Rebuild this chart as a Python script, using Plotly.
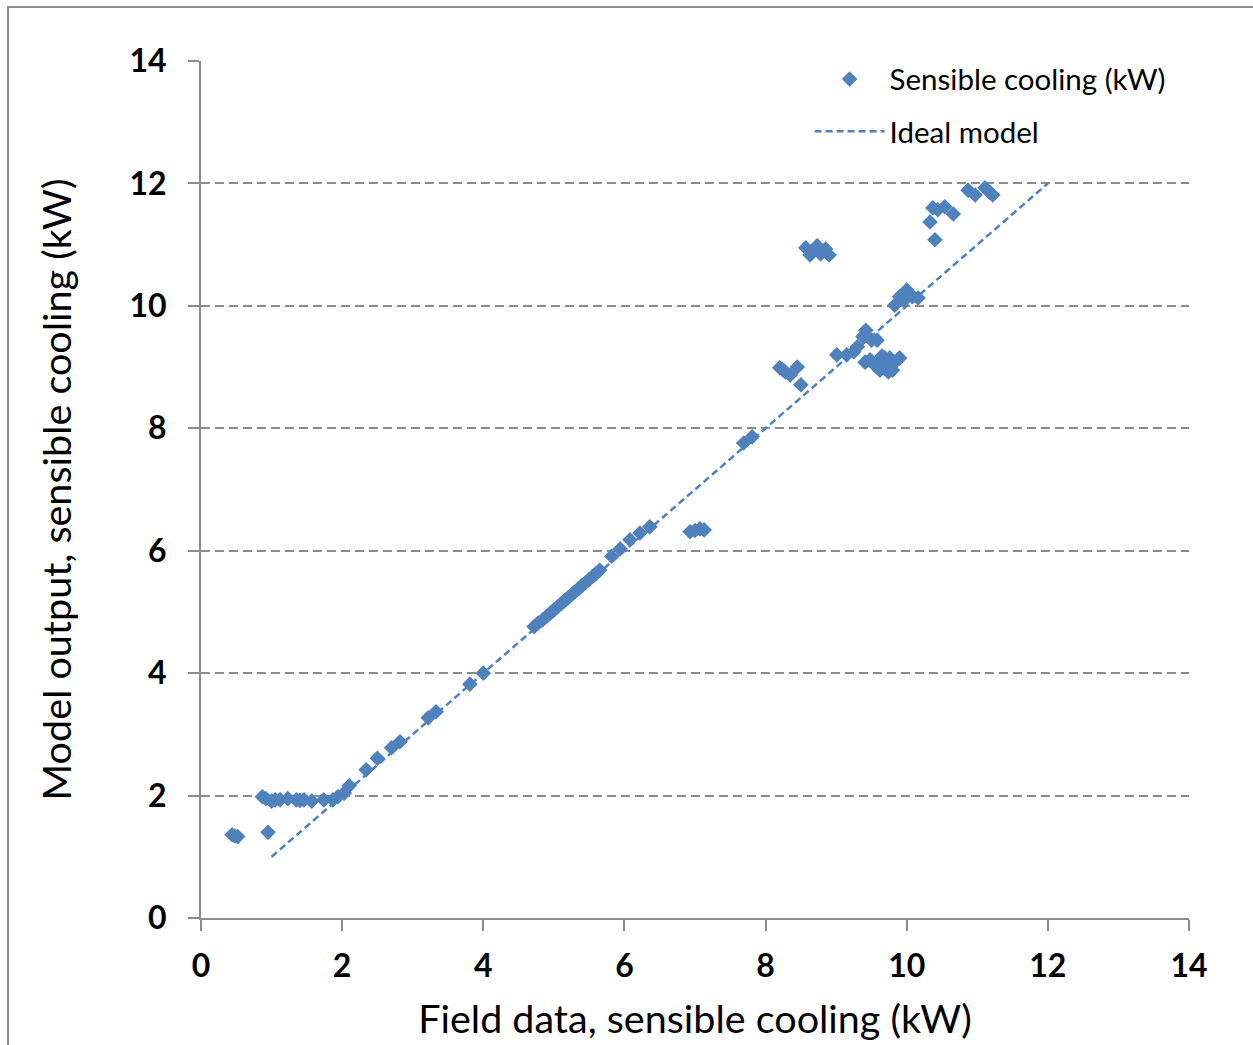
import plotly.graph_objects as go

# Field data (x) vs model output (y), sensible cooling in kW
field_x = [0.44, 0.48, 0.52, 0.95,
           0.87, 0.92, 1.00, 1.05, 1.12, 1.23, 1.35, 1.40, 1.46, 1.57, 1.74, 1.87, 1.94,
           2.03, 2.10, 2.34, 2.50, 2.70, 2.82, 3.22, 3.33, 3.81, 4.00,
           4.72, 4.78, 4.84, 4.90, 4.95, 5.00, 5.05, 5.10, 5.15, 5.20, 5.25, 5.30,
           5.35, 5.40, 5.45, 5.50, 5.55, 5.60, 5.65,
           5.82, 5.94, 6.08, 6.22, 6.36,
           6.93, 7.00, 7.07, 7.13, 7.69, 7.81,
           8.20, 8.24, 8.28, 8.35, 8.45, 8.50,
           8.57, 8.63, 8.66, 8.70, 8.73, 8.78, 8.80, 8.85, 8.90,
           9.01, 9.15, 9.25, 9.30, 9.38, 9.42, 9.50, 9.58,
           9.41, 9.48, 9.55, 9.60, 9.62, 9.69, 9.74, 9.76, 9.80, 9.83, 9.90, 9.65, 9.72,
           9.83, 9.90, 9.97, 10.00, 10.04, 10.08, 10.16,
           10.33, 10.37, 10.40, 10.44, 10.54, 10.66,
           10.87, 10.97, 11.11, 11.18, 11.22]
model_y = [1.36, 1.34, 1.33, 1.40,
           1.98, 1.95, 1.91, 1.93, 1.93, 1.95, 1.93, 1.92, 1.93, 1.91, 1.93, 1.93, 1.98,
           2.04, 2.16, 2.42, 2.61, 2.78, 2.88, 3.27, 3.37, 3.82, 4.00,
           4.76, 4.82, 4.87, 4.93, 4.98, 5.03, 5.08, 5.13, 5.18, 5.23, 5.28, 5.33,
           5.38, 5.43, 5.48, 5.53, 5.58, 5.63, 5.68,
           5.91, 6.03, 6.18, 6.29, 6.39,
           6.31, 6.33, 6.36, 6.34, 7.76, 7.86,
           8.99, 8.96, 8.92, 8.87, 9.00, 8.71,
           10.95, 10.83, 10.88, 10.92, 10.98, 10.85, 10.88, 10.93, 10.83,
           9.20, 9.20, 9.25, 9.33, 9.50, 9.60, 9.44, 9.44,
           9.08, 9.12, 9.03, 9.08, 8.95, 9.15, 8.92, 9.15, 8.95, 9.08, 9.15, 9.18, 9.05,
           10.01, 10.15, 10.10, 10.26, 10.20, 10.15, 10.13,
           11.37, 11.60, 11.08, 11.57, 11.62, 11.50,
           11.89, 11.81, 11.93, 11.85, 11.81]

ideal_x = [1, 12]
ideal_y = [1, 12]

y_ticks = [0, 2, 4, 6, 8, 10, 12, 14]
x_ticks = [0, 2, 4, 6, 8, 10, 12, 14]

blue = "#4F81BD"
grey = "#8C8C8C"
font_family = "Lato, 'Open Sans', sans-serif"

fig = go.Figure()
fig.add_trace(go.Scatter(
    x=field_x, y=model_y, mode="markers", name="Sensible cooling (kW)",
    legendgroup="a",
    marker=dict(symbol="diamond", size=12, color=blue, line=dict(width=0)),
))
fig.add_trace(go.Scatter(
    x=ideal_x, y=ideal_y, mode="lines", name="Ideal model",
    legendgroup="b",
    line=dict(color=blue, width=2.5, dash="7px,4px"),
))

fig.update_layout(
    width=1253, height=1045,
    margin=dict(l=201, r=64, t=61, b=127),
    paper_bgcolor="white", plot_bgcolor="white",
    font=dict(family=font_family, color="black"),
    showlegend=True,
    legend=dict(x=0.616, y=1.009, xanchor="left", yanchor="top",
                font=dict(size=29.5, family=font_family),
                traceorder="grouped", tracegroupgap=11,
                bgcolor="rgba(0,0,0,0)", itemwidth=70),
    xaxis=dict(range=[0, 14], tickvals=x_ticks, showgrid=False, zeroline=False,
               automargin=False,
               showline=True, linecolor=grey, linewidth=2,
               ticks="outside", ticklen=11, tickcolor=grey, tickwidth=2,
               ticklabelstandoff=8,
               tickfont=dict(size=32, family=font_family, weight="bold"),
               title=dict(text="Field data, sensible cooling (kW)",
                          font=dict(size=39.5, family=font_family), standoff=22)),
    yaxis=dict(range=[0, 14], tickvals=y_ticks, showgrid=True, gridcolor=grey,
               automargin=False,
               griddash="9px,5px", gridwidth=1.6, zeroline=False,
               showline=True, linecolor=grey, linewidth=2,
               ticks="outside", ticklen=11, tickcolor=grey, tickwidth=2,
               ticklabelstandoff=15,
               tickfont=dict(size=32, family=font_family, weight="bold"),
               title=dict(text="Model output, sensible cooling (kW)",
                          font=dict(size=39.5, family=font_family), standoff=46)),
    shapes=[dict(type="rect", xref="paper", yref="paper",
                 x0=-0.1953, x1=1.2, y0=-0.3, y1=1.063,
                 line=dict(color=grey, width=2), layer="below")],
)

fig.write_html("out.html")
